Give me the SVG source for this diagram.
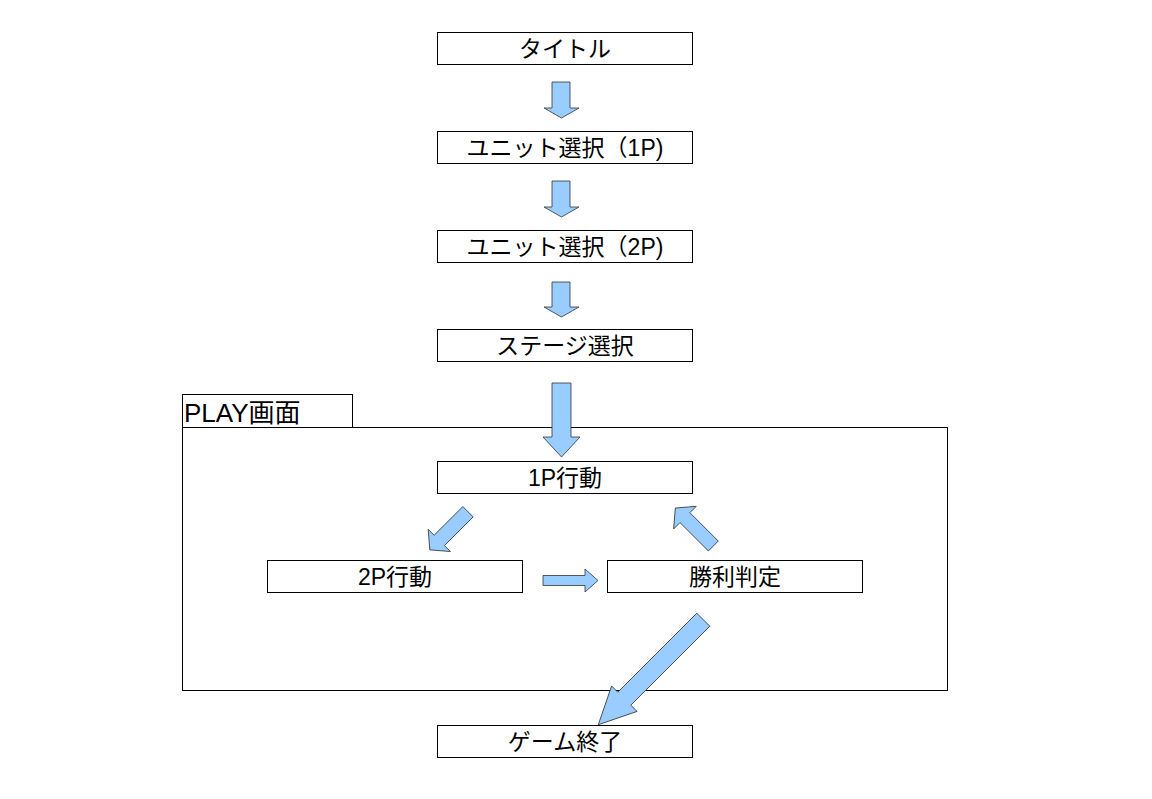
<svg xmlns="http://www.w3.org/2000/svg" width="1152" height="799" viewBox="0 0 1152 799">
<style>
.box{fill:#fff;stroke:#000;stroke-width:1}
.frame{fill:none;stroke:#000;stroke-width:1}
.lbl{font-family:"Liberation Sans","Noto Sans CJK JP",sans-serif;font-size:23px;fill:#000;text-anchor:middle}
.tab{font-family:"Liberation Sans","Noto Sans CJK JP",sans-serif;font-size:26px;fill:#000}
.arr{fill:#99ccff;stroke:#333;stroke-width:0.8;stroke-linejoin:miter}
</style>
<rect width="1152" height="799" fill="#fff"/>
<g id="play-frame">
<rect class="frame" x="182.5" y="427.5" width="765" height="263"/>
<rect class="frame" x="182.5" y="394.5" width="170" height="33"/>
<text class="tab" x="184" y="421.5">PLAY画面</text>
</g>
<g id="connectors">
<polygon class="arr" points="552,82 570,82 570,108 579,108 561.5,118 544,108 552,108"/>
<polygon class="arr" points="552,181 570,181 570,207 579,207 561.5,217 544,207 552,207"/>
<polygon class="arr" points="552,282 570,282 570,307 579,307 561.5,317 544,307 552,307"/>
<polygon class="arr" points="552,383 571,383 571,437 580,437 561.5,457 543,437 552,437"/>
<polygon class="arr" transform="translate(468,511.7) rotate(135)" points="0,-7.3 40.6,-7.3 40.6,-15.7 54,0 40.6,15.7 40.6,7.3 0,7.3"/>
<polygon class="arr" points="543,575.5 585,575.5 585,569 598,580.5 585,592 585,585.5 543,585.5"/>
<polygon class="arr" transform="translate(713.3,546) rotate(225)" points="0,-7 40.1,-7 40.1,-16 53.7,0 40.1,16 40.1,7 0,7"/>
<polygon class="arr" transform="translate(703.3,619.7) rotate(135)" points="0,-9.2 111.7,-9.2 111.7,-18 148.5,0 111.7,18 111.7,9.2 0,9.2"/>
</g>
<g id="title">
<rect class="box" x="437.5" y="32.5" width="255" height="32"/>
<text class="lbl" x="565" y="57">タイトル</text>
</g>
<g id="unit1p">
<rect class="box" x="437.5" y="131.5" width="255" height="32"/>
<text class="lbl" x="565" y="156">ユニット選択（1P)</text>
</g>
<g id="unit2p">
<rect class="box" x="437.5" y="230.5" width="255" height="32"/>
<text class="lbl" x="565" y="255">ユニット選択（2P)</text>
</g>
<g id="stage">
<rect class="box" x="437.5" y="329.5" width="255" height="32"/>
<text class="lbl" x="565" y="354">ステージ選択</text>
</g>
<g id="p1action">
<rect class="box" x="437.5" y="461.5" width="255" height="32"/>
<text class="lbl" x="565" y="486">1P行動</text>
</g>
<g id="p2action">
<rect class="box" x="267.5" y="560.5" width="255" height="32"/>
<text class="lbl" x="395" y="585">2P行動</text>
</g>
<g id="judge">
<rect class="box" x="607.5" y="560.5" width="255" height="32"/>
<text class="lbl" x="735" y="585">勝利判定</text>
</g>
<g id="gameover">
<rect class="box" x="437.5" y="725.5" width="255" height="32"/>
<text class="lbl" x="565" y="750">ゲーム終了</text>
</g>
</svg>
